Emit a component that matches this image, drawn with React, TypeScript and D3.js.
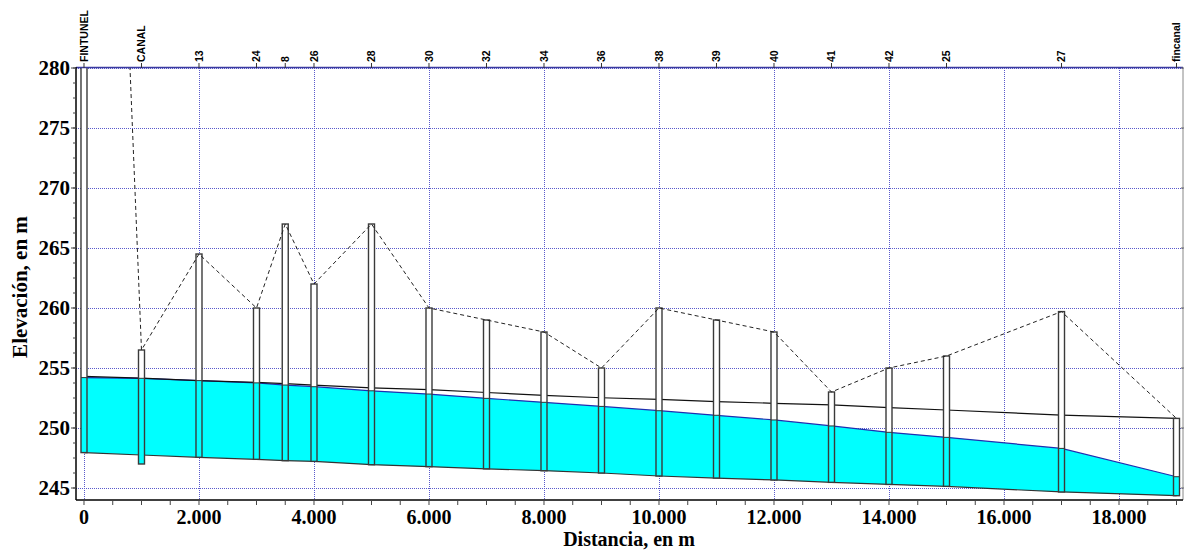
import React from 'react';
import * as d3 from 'd3';

// nodes along the channel profile
const nodeNames = ['FINTUNEL', 'CANAL', '13', '24', '8', '26', '28', '30', '32', '34', '36', '38', '39', '40', '41', '42', '25', '27', 'fincanal'];
const nodeDist = [0, 1000, 2000, 3000, 3500, 4000, 5000, 6000, 7000, 8000, 9000, 10000, 11000, 12000, 13000, 14000, 15000, 17000, 19000];
const nodeRim = [374, 256.5, 264.5, 260, 267, 262, 267, 260, 259, 258, 255, 260, 259, 258, 253, 255, 256, 259.7, 250.8];
const nodeBottom = [247.95, 247.0, 247.56, 247.39, 247.28, 247.22, 246.94, 246.78, 246.6, 246.44, 246.25, 246.0, 245.83, 245.67, 245.47, 245.3, 245.14, 244.67, 244.36];

// conduit lines at the same stations
const conduitInvert = [247.95, 247.75, 247.56, 247.39, 247.28, 247.22, 246.94, 246.78, 246.6, 246.44, 246.25, 246.0, 245.83, 245.67, 245.47, 245.3, 245.14, 244.67, 244.36];
const conduitCrown = [254.3, 254.15, 253.95, 253.8, 253.7, 253.58, 253.35, 253.2, 252.96, 252.72, 252.52, 252.38, 252.2, 252.06, 251.92, 251.7, 251.5, 251.08, 250.8];
const waterLevel = [254.2, 254.14, 253.95, 253.76, 253.58, 253.44, 253.1, 252.83, 252.47, 252.14, 251.8, 251.44, 251.06, 250.67, 250.17, 249.64, 249.22, 248.3, 245.94];

const yMajor = [245, 250, 255, 260, 265, 270, 275, 280];
const xMajor = [0, 2000, 4000, 6000, 8000, 10000, 12000, 14000, 16000, 18000];

const W = 1184;
const H = 553;
const left = 76, right = 1183, top = 68, bottom = 500;

const fmt = d3.formatLocale({ decimal: ',', thousands: '.', grouping: [3], currency: ['', ''] }).format(',d');

export default function App() {
  const x = d3.scaleLinear().domain([-139, 19113]).range([left, right]);
  const y = d3.scaleLinear().domain([244, 280]).range([bottom, top]);

  const idx = d3.range(nodeDist.length);

  const area = d3.area<number>()
    .x(i => x(nodeDist[i]))
    .y0(i => y(conduitInvert[i]))
    .y1(i => y(waterLevel[i]));
  const lineOf = (arr: number[]) => d3.line<number>().x(i => x(nodeDist[i])).y(i => y(arr[i]))(idx) || '';

  const xMinor = d3.range(0, 19001, 500);
  const yMinor = d3.range(245, 280.01, 1.25);
  const gridColor = '#5a5acc';
  const barW = 6;
  const serif = '"Liberation Serif", "Times New Roman", serif';
  const sans = '"Liberation Sans", Arial, sans-serif';

  return (
    <svg width={W} height={H} style={{ position: 'absolute', left: 0, top: 0, background: '#fff' }}>
      <defs>
        <clipPath id="plot">
          <rect x={left} y={top} width={right - left} height={bottom - top} />
        </clipPath>
      </defs>

      {/* grid */}
      <g stroke={gridColor} strokeWidth={1} strokeDasharray="1,1" shapeRendering="crispEdges">
        {yMajor.map(v => (
          <line key={'gy' + v} x1={left} x2={right} y1={Math.round(y(v)) + 0.5} y2={Math.round(y(v)) + 0.5} />
        ))}
        {xMajor.map(v => (
          <line key={'gx' + v} x1={Math.round(x(v)) + 0.5} x2={Math.round(x(v)) + 0.5} y1={top} y2={bottom} />
        ))}
      </g>

      <g clipPath="url(#plot)">
        {/* water between invert and surface */}
        <path d={area(idx) || ''} fill="#00ffff" stroke="none" />
        <path d={lineOf(conduitInvert)} fill="none" stroke="#333" strokeWidth={1.2} />
        <path d={lineOf(waterLevel)} fill="none" stroke="#1f2fb0" strokeWidth={1.2} />
        <path d={lineOf(conduitCrown)} fill="none" stroke="#111" strokeWidth={1.2} />

        {/* nodes */}
        {idx.map(i => {
          const cx = x(nodeDist[i]);
          const yTop = y(nodeRim[i]);
          const yBot = y(nodeBottom[i]);
          const yW = y(waterLevel[i]);
          return (
            <g key={'n' + i}>
              <rect x={cx - barW / 2} y={yTop} width={barW} height={yBot - yTop} fill="#fff" stroke="none" />
              {yW < yBot && (
                <rect x={cx - barW / 2} y={yW} width={barW} height={yBot - yW} fill="#00ffff" stroke="none" />
              )}
              <line x1={cx - barW / 2} x2={cx + barW / 2} y1={yW} y2={yW} stroke="#333" strokeWidth={1} />
              <rect x={cx - barW / 2} y={yTop} width={barW} height={yBot - yTop} fill="none" stroke="#3a3a3a" strokeWidth={1.4} />
            </g>
          );
        })}

        {/* rim line */}
        <path d={lineOf(nodeRim)} fill="none" stroke="#222" strokeWidth={1} strokeDasharray="4,3" />
      </g>

      {/* frame */}
      <line x1={left} x2={right} y1={top - 0.5} y2={top - 0.5} stroke="#3a3aa0" strokeWidth={1.5} />
      <line x1={right} x2={right} y1={top} y2={bottom} stroke="#888" strokeWidth={1} />
      <line x1={left} x2={left} y1={top - 1} y2={bottom} stroke="#000" strokeWidth={1.5} />
      <line x1={left} x2={right} y1={bottom} y2={bottom} stroke="#000" strokeWidth={1.5} />

      {/* left axis */}
      <g stroke="#444" strokeWidth={1}>
        {yMinor.map(v => (
          <line key={'ym' + v} x1={left - 3} x2={left} y1={y(v)} y2={y(v)} />
        ))}
        {yMajor.map(v => (
          <line key={'yM' + v} x1={left - 5} x2={left} y1={y(v)} y2={y(v)} />
        ))}
      </g>
      {yMajor.map(v => (
        <text key={'yl' + v} x={left - 6} y={y(v)} dy="0.35em" textAnchor="end"
          fontFamily={serif} fontWeight="bold" fontSize={21} fill="#000">{v}</text>
      ))}

      {/* right axis ticks */}
      <g stroke="#666" strokeWidth={1}>
        {yMajor.map(v => (
          <line key={'yr' + v} x1={right - 2} x2={right + 2} y1={y(v)} y2={y(v)} />
        ))}
      </g>

      {/* bottom axis */}
      <g stroke="#444" strokeWidth={1}>
        {xMinor.map(v => (
          <line key={'xm' + v} x1={x(v)} x2={x(v)} y1={bottom} y2={bottom + 5} />
        ))}
      </g>
      {xMajor.map(v => (
        <text key={'xl' + v} x={x(v)} y={524} textAnchor="middle"
          fontFamily={serif} fontWeight="bold" fontSize={20} fill="#000">{fmt(v)}</text>
      ))}

      {/* node labels on top */}
      {idx.map(i => (
        <g key={'tl' + i}>
          <line x1={x(nodeDist[i])} x2={x(nodeDist[i])} y1={top - 5} y2={top} stroke="#333" strokeWidth={1} />
          <text transform={`translate(${x(nodeDist[i])},${top - 6}) rotate(-90)`} dy="0.35em"
            fontFamily={sans} fontWeight="bold" fontSize={10.5} fill="#000">{nodeNames[i]}</text>
        </g>
      ))}

      {/* axis titles */}
      <text transform="translate(27,287) rotate(-90)" textAnchor="middle"
        fontFamily={serif} fontWeight="bold" fontSize={21} fill="#000">Elevación, en m</text>
      <text x={629} y={546} textAnchor="middle"
        fontFamily={serif} fontWeight="bold" fontSize={20} fill="#000">Distancia, en m</text>
    </svg>
  );
}
